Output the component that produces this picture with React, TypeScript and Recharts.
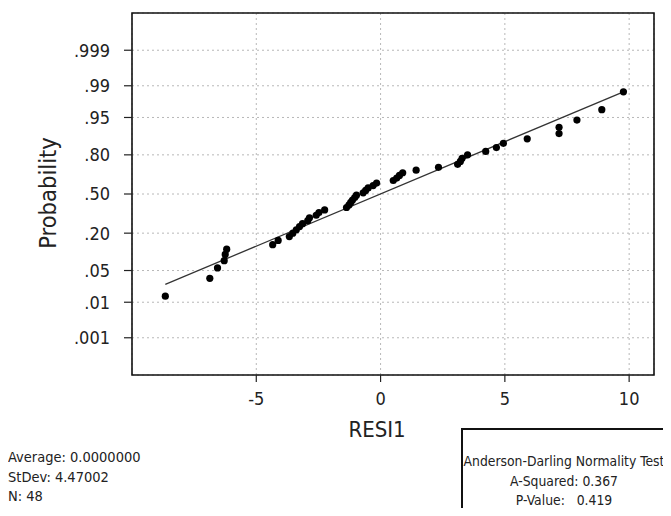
import React from 'react';
import {
  ScatterChart,
  Scatter,
  XAxis,
  YAxis,
  CartesianGrid,
  ReferenceArea,
  ReferenceLine,
} from 'recharts';

// Residuals (RESI1), sorted
const residuals = [
  -8.66, -6.87, -6.56, -6.29, -6.25, -6.19, -4.34, -4.12, -3.67, -3.53, -3.39, -3.26,
  -3.14, -2.93, -2.86, -2.59, -2.48, -2.25, -1.37, -1.27, -1.2, -1.13, -1.04, -0.97,
  -0.7, -0.6, -0.5, -0.3, -0.16, 0.51, 0.65, 0.76, 0.89, 1.43, 2.33, 3.1,
  3.21, 3.28, 3.5, 4.23, 4.66, 4.94, 5.9, 7.18, 7.18, 7.9, 8.9, 9.77,
];
// Plotted cumulative probability (percent) of each point
const probabilities = [
  1.4, 3.5, 5.6, 7.6, 9.7, 11.8, 13.8, 15.9, 18.0, 20.0, 22.1, 24.2,
  26.2, 28.3, 30.4, 32.4, 34.5, 36.6, 38.6, 40.7, 42.8, 44.8, 46.9, 49.0,
  51.0, 53.1, 55.2, 57.2, 59.3, 61.4, 63.4, 65.5, 67.6, 69.6, 71.7, 73.8,
  75.8, 77.9, 80.0, 82.0, 84.1, 86.2, 88.2, 90.3, 92.4, 94.4, 96.5, 98.6,
];
// Fitted line end points
const fitX = [-8.66, 9.77];
const fitP = [2.6, 98.6];

const xTicks = [-5, 0, 5, 10];
const xDomain = [-10, 11];
const yTickProbs = [0.001, 0.01, 0.05, 0.2, 0.5, 0.8, 0.95, 0.99, 0.999];
const yTickLabels = ['.001', '.01', '.05', '.20', '.50', '.80', '.95', '.99', '.999'];
const yDomainProbs = [0.00005, 0.99995];

const xTitle = 'RESI1';
const yTitle = 'Probability';
const statLines = ['Average: 0.0000000', 'StDev: 4.47002', 'N: 48'];
const testLines = ['Anderson-Darling Normality Test', 'A-Squared: 0.367', 'P-Value:   0.419'];

// inverse standard normal CDF (normal probability axis transform)
function invNorm(p: number): number {
  const a = [-39.69683028665376, 220.9460984245205, -275.9285104469687, 138.357751867269, -30.66479806614716, 2.506628277459239];
  const b = [-54.47609879822406, 161.5858368580409, -155.6989798598866, 66.80131188771972, -13.28068155288572];
  const c = [-0.007784894002430293, -0.3223964580411365, -2.400758277161838, -2.549732539343734, 4.374664141464968, 2.938163982698783];
  const d = [0.007784695709041462, 0.3224671290700398, 2.445134137142996, 3.754408661907416];
  const pl = 0.02425;
  if (p < pl) {
    const q = Math.sqrt(-2 * Math.log(p));
    return (((((c[0] * q + c[1]) * q + c[2]) * q + c[3]) * q + c[4]) * q + c[5]) /
      ((((d[0] * q + d[1]) * q + d[2]) * q + d[3]) * q + 1);
  }
  if (p > 1 - pl) {
    const q = Math.sqrt(-2 * Math.log(1 - p));
    return -(((((c[0] * q + c[1]) * q + c[2]) * q + c[3]) * q + c[4]) * q + c[5]) /
      ((((d[0] * q + d[1]) * q + d[2]) * q + d[3]) * q + 1);
  }
  const q = p - 0.5;
  const r = q * q;
  return (((((a[0] * r + a[1]) * r + a[2]) * r + a[3]) * r + a[4]) * r + a[5]) * q /
    (((((b[0] * r + b[1]) * r + b[2]) * r + b[3]) * r + b[4]) * r + 1);
}

const points = residuals.map((x, i) => ({ x, z: invNorm(probabilities[i] / 100) }));
const yTicks = yTickProbs.map(invNorm);
const yDomain = yDomainProbs.map(invNorm);
const fitSegment = fitX.map((x, i) => ({ x, y: invNorm(fitP[i] / 100) }));

const FONT = "'DejaVu Sans Condensed', 'DejaVu Sans', sans-serif";

const tickLabel = (v: number) => {
  let best = 0;
  yTicks.forEach((t, i) => {
    if (Math.abs(t - v) < Math.abs(yTicks[best] - v)) best = i;
  });
  return yTickLabels[best];
};

const Dot = (props: any) => <circle cx={props.cx} cy={props.cy} r={3.6} fill="#000" />;

export default function App() {
  return (
    <div style={{ position: 'relative', width: 663, height: 500, overflow: 'hidden', background: '#fff', fontFamily: FONT }}>
      <ScatterChart width={655} height={500} margin={{ top: 5, right: 9, bottom: 103, left: 0 }}>
        <CartesianGrid stroke="#b8b8b8" strokeDasharray="2 3" strokeWidth={1} />
        <XAxis
          type="number"
          dataKey="x"
          domain={xDomain}
          ticks={xTicks}
          interval={0}
          height={30}
          axisLine={false}
          tickLine={{ stroke: '#222', strokeWidth: 1.2 }}
          tickSize={7}
          tickMargin={10}
          tick={{ fontFamily: FONT, fontSize: 18, fill: '#222' }}
          allowDataOverflow
        />
        <YAxis
          type="number"
          dataKey="z"
          domain={yDomain}
          ticks={yTicks}
          interval={0}
          width={124}
          axisLine={false}
          tickLine={{ stroke: '#222', strokeWidth: 1.2 }}
          tickSize={8}
          tickMargin={14}
          tickFormatter={tickLabel}
          tick={{ fontFamily: FONT, fontSize: 18, fill: '#222' }}
          allowDataOverflow
        />
        <ReferenceArea
          x1={xDomain[0]}
          x2={xDomain[1]}
          y1={yDomain[0]}
          y2={yDomain[1]}
          fill="none"
          stroke="#111"
          strokeWidth={1.6}
          ifOverflow="visible"
        />
        <ReferenceLine segment={fitSegment} stroke="#333" strokeWidth={1.3} ifOverflow="visible" />
        <Scatter data={points} shape={Dot} isAnimationActive={false} />
      </ScatterChart>

      <div
        style={{
          position: 'absolute', left: 41, top: 185, transform: 'translate(-50%, -50%) rotate(-90deg)',
          fontSize: 23.5, color: '#222', whiteSpace: 'nowrap', lineHeight: 1,
        }}
      >
        {yTitle}
      </div>
      <div
        style={{
          position: 'absolute', left: 369, top: 422, transform: 'translate(-50%, -50%)',
          fontSize: 22, color: '#222', whiteSpace: 'nowrap', lineHeight: 1,
        }}
      >
        {xTitle}
      </div>

      {statLines.map((s, i) => (
        <div
          key={s}
          style={{
            position: 'absolute', left: 0, top: 449 + i * 19.5, transform: 'translateY(-50%)',
            fontSize: 14.5, color: '#222', whiteSpace: 'nowrap', lineHeight: 1,
          }}
        >
          {s}
        </div>
      ))}

      <div
        style={{
          position: 'absolute', left: 453, top: 420, width: 400, height: 200,
          borderLeft: '2px solid #111', borderTop: '2px solid #111',
        }}
      />
      {testLines.map((s, i) => (
        <div
          key={s}
          style={{
            position: 'absolute', left: 556, top: 454 + i * 19.5, transform: 'translate(-50%, -50%)',
            fontSize: 13.8, color: '#222', whiteSpace: 'pre', lineHeight: 1,
          }}
        >
          {s}
        </div>
      ))}
    </div>
  );
}
